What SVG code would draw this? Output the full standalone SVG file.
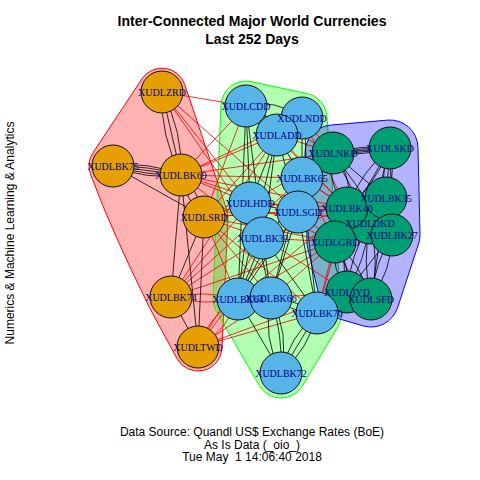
<svg xmlns="http://www.w3.org/2000/svg" width="480" height="480" viewBox="0 0 480 480">
<style>
.hull{stroke-width:1}
.e{fill:none;stroke:#000;stroke-width:0.8}
.r{fill:none;stroke:#e00;stroke-width:0.8}
.o{fill:#E69F00;stroke:#111;stroke-width:1}
.b{fill:#56B4E9;stroke:#111;stroke-width:1}
.g{fill:#009E73;stroke:#111;stroke-width:1}
.lab{font-family:"Liberation Serif","DejaVu Serif",serif;font-size:10px;fill:#00008B;text-anchor:middle}
.title{font-family:"Liberation Sans",Arial,sans-serif;font-size:14px;font-weight:bold;fill:#000;text-anchor:middle}
.sub{font-family:"Liberation Sans",Arial,sans-serif;font-size:12px;fill:#000;text-anchor:middle;white-space:pre}
</style>
<rect width="480" height="480" fill="#fff"/>
<g id="hulls">
<path class="hull" fill="#ff0000" fill-opacity="0.3" stroke="#ff0000" d="M142,78.8 A24,24 0 0 1 184.7,84.4 L226.7,209.4 A24,24 0 0 1 228,218.1 L222,348.1 A24,24 0 0 1 176.9,358.4 L149.9,308.4 A24,24 0 0 1 149.1,306.7 Q112,232 91.1,175.7 A24,24 0 0 1 93,152.8 Z"/>
<path class="hull" fill="#00ff00" fill-opacity="0.3" stroke="#00ff00" d="M221,105 A25,25 0 0 1 251.2,81.6 L307.2,93.6 A25,25 0 0 1 326.9,116.1 L341.9,311.1 A25,25 0 0 1 338.4,325.9 L302.4,385.9 A25,25 0 0 1 259.4,385.6 L216.4,311.6 A25,25 0 0 1 213,298 Z"/>
<path class="hull" fill="#0000ff" fill-opacity="0.3" stroke="#0000ff" d="M305,153.6 A28,28 0 0 1 330.6,125.1 L387.6,120.1 A28,28 0 0 1 418,147.4 L420,234.4 A28,28 0 0 1 418.6,243.7 L397.6,307.7 A28,28 0 0 1 363.2,325.9 L339.2,318.9 A28,28 0 0 1 319.8,298.5 L307.8,248.5 A28,28 0 0 1 307,242.6 Z"/>
</g>
<g id="connectors">
<path class="r" d="M162,92 L246,106 M162,92 L250,203 M162,92 L263,238 M162,92 L298,212 M181,175 L246,106 M181,175 L277,135 M181,175 L302,178 M181,175 L250,203 M181,175 L298,212 M181,175 L263,238 M181,175 L302,118 M204,217 L246,106 M204,217 L277,135 M204,217 L250,203 M204,217 L263,238 M204,217 L298,212 M204,217 L271,298 M204,217 L317,313 M204,217 L238,299 M171,297 Q204.5,306 238,299 M171,297 Q204.5,290 238,299 M171,297 L250,203 M171,297 L263,238 M171,297 L302,178 M171,297 L277,135 M198,347 Q227,331 238,299 M198,347 Q209,315 238,299 M198,347 L271,298 M198,347 L317,313 M198,347 L263,238 M198,347 L298,212 M181,175 L347,208 M204,217 L335,242 M181,175 L333,153 M204,217 L347,208 M171,297 L335,242 M198,347 L347,292"/>
<path class="r" d="M246,106 L333,153 M277,135 L333,153 M302,118 L333,153 M302,118 L347,208 M302,178 L333,153 M302,178 L347,208 M302,178 L335,242 M302,178 L370,223 M298,212 L347,208 M298,212 L335,242 M298,212 L370,223 M298,212 L333,153 M263,238 L335,242 M263,238 L347,208 M250,203 L335,242 M250,203 L347,208 M250,203 L333,153 M271,298 L335,242 M271,298 L347,292 M238,299 L335,242 M317,313 L335,242 M317,313 L347,292 M317,313 L347,208 M263,238 L347,292 M238,299 L347,208 M277,135 L347,208 M246,106 L347,208"/>
<path class="e" d="M162,92 Q183,131 181,175 M162,92 Q160,136 181,175 M162,92 L181,175 M113,166 Q146,180 181,175 M113,166 Q146,175.5 181,175 M113,166 L181,175 M113,166 Q148,165.5 181,175 M113,166 Q148,161 181,175 M113,166 L204,217 M181,175 Q199.5,192 204,217 M181,175 Q185.5,200 204,217 M181,175 L171,297 M204,217 L171,297 M181,175 L198,347 M204,217 L198,347 M171,297 L198,347"/>
<path class="e" d="M246,106 Q275,98 302,118 M246,106 Q270,124 302,118 M246,106 Q268,113 277,135 M246,106 Q256,128 277,135 M277,135 L302,118 M246,106 L250,203 M246,106 L263,238 M277,135 L250,203 M277,135 L263,238 M277,135 L302,178 M277,135 L298,212 M302,118 L302,178 M302,118 Q312,165 298,212 M302,178 L298,212 M250,203 L298,212 M250,203 L263,238 M250,203 L238,299 M250,203 L271,298 M263,238 L238,299 M263,238 L271,298 M298,212 L271,298 M298,212 L238,299 M302,178 L271,298 M302,178 L238,299 M277,135 L238,299 M246,106 L238,299 M238,299 L271,298 M238,299 L281,373 M271,298 Q290,334 281,373 M271,298 Q283,335 281,373 M271,298 Q262,337 281,373 M317,313 Q309,349 281,373 M317,313 Q299,343 281,373 M317,313 Q289,337 281,373 M271,298 Q295,300 317,313 M271,298 Q292,312 317,313 M298,212 L317,313 M263,238 L317,313 M302,178 L317,313"/>
<path class="e" stroke="#1a1040" d="M333,153 L390,148 M333,153 Q362,156.5 390,148 M333,153 Q361,144.5 390,148 M333,153 Q361.8,153.5 390,148 M333,153 Q361.2,147.5 390,148 M333,153 Q354,177 347,208 M333,153 Q326,184 347,208 M333,153 L386,198 M333,153 L370,223 M333,153 L392,235 M386,148 L382,198 M390,148 L386,198 M394,148 L390,198 M390,148 Q362,170 347,208 M390,148 Q375,185 347,208 M390,148 L370,223 M390,148 L335,242 M390,148 L392,235 M386,198 L392,235 M386,198 L370,223 M347,208 L370,223 M347,208 L335,242 M335,242 Q351,265 347,292 M335,242 Q331,269 347,292 M335,242 Q360,262 371,299 M335,242 Q348,280 371,299 M370,223 Q365,260 347,292 M370,223 Q350,255 347,292 M370,223 Q380,262 371,299 M370,223 Q362,262 371,299 M392,235 Q392,270 371,299 M392,235 Q375,262 371,299 M392,235 L347,292 M386,198 L371,299 M347,208 Q340,250 347,292"/>
</g>
<g id="n-DKD"><circle class="g" cx="370" cy="223" r="21"/></g>
<g id="n-BK40"><circle class="g" cx="347" cy="208" r="21"/></g>
<g id="n-BK35"><circle class="g" cx="386" cy="198" r="21"/></g>
<g id="n-BK27"><circle class="g" cx="392" cy="235" r="21"/></g>
<g id="n-GBD"><circle class="g" cx="335" cy="242" r="21"/></g>
<g id="n-NKD"><circle class="g" cx="333" cy="153" r="21"/></g>
<g id="n-SKD"><circle class="g" cx="390" cy="148" r="21"/></g>
<g id="n-JYD"><circle class="g" cx="347" cy="292" r="21"/></g>
<g id="n-SFD"><circle class="g" cx="371" cy="299" r="21"/></g>
<g id="n-CDD"><circle class="b" cx="246" cy="106" r="21"/></g>
<g id="n-NDD"><circle class="b" cx="302" cy="118" r="21"/></g>
<g id="n-ADD"><circle class="b" cx="277" cy="135" r="21"/></g>
<g id="n-BK65"><circle class="b" cx="302" cy="178" r="21"/></g>
<g id="n-SGD"><circle class="b" cx="298" cy="212" r="21"/></g>
<g id="n-HDD"><circle class="b" cx="250" cy="203" r="21"/></g>
<g id="n-BK33"><circle class="b" cx="263" cy="238" r="21"/></g>
<g id="n-BK64"><circle class="b" cx="238" cy="299" r="21"/></g>
<g id="n-BK66"><circle class="b" cx="271" cy="298" r="21"/></g>
<g id="n-BK70"><circle class="b" cx="317" cy="313" r="21"/></g>
<g id="n-BK72"><circle class="b" cx="281" cy="373" r="21"/></g>
<g id="n-ZRD"><circle class="o" cx="162" cy="92" r="21"/></g>
<g id="n-BK75"><circle class="o" cx="113" cy="166" r="21"/></g>
<g id="n-BK69"><circle class="o" cx="181" cy="175" r="21"/></g>
<g id="n-SRD"><circle class="o" cx="204" cy="217" r="21"/></g>
<g id="n-BK74"><circle class="o" cx="171" cy="297" r="21"/></g>
<g id="n-TWD"><circle class="o" cx="198" cy="347" r="21"/></g>
<g id="node-labels">
<text class="lab" x="370" y="226.5">XUDLDKD</text>
<text class="lab" x="347" y="211.5">XUDLBK40</text>
<text class="lab" x="386" y="201.5">XUDLBK35</text>
<text class="lab" x="392" y="238.5">XUDLBK27</text>
<text class="lab" x="335" y="245.5">XUDLGBD</text>
<text class="lab" x="333" y="156.5">XUDLNKD</text>
<text class="lab" x="390" y="151.5">XUDLSKD</text>
<text class="lab" x="347" y="295.5">XUDLJYD</text>
<text class="lab" x="371" y="302.5">XUDLSFD</text>
<text class="lab" x="246" y="109.5">XUDLCDD</text>
<text class="lab" x="302" y="121.5">XUDLNDD</text>
<text class="lab" x="277" y="138.5">XUDLADD</text>
<text class="lab" x="302" y="181.5">XUDLBK65</text>
<text class="lab" x="298" y="215.5">XUDLSGD</text>
<text class="lab" x="250" y="206.5">XUDLHDD</text>
<text class="lab" x="263" y="241.5">XUDLBK33</text>
<text class="lab" x="238" y="302.5">XUDLBK64</text>
<text class="lab" x="271" y="301.5">XUDLBK66</text>
<text class="lab" x="317" y="316.5">XUDLBK70</text>
<text class="lab" x="281" y="376.5">XUDLBK72</text>
<text class="lab" x="162" y="95.5">XUDLZRD</text>
<text class="lab" x="113" y="169.5">XUDLBK75</text>
<text class="lab" x="181" y="178.5">XUDLBK69</text>
<text class="lab" x="204" y="220.5">XUDLSRD</text>
<text class="lab" x="171" y="300.5">XUDLBK74</text>
<text class="lab" x="198" y="350.5">XUDLTWD</text>
</g>
<g id="titles">
<text class="title" x="252" y="26">Inter-Connected Major World Currencies</text>
<text class="title" x="252" y="44">Last 252 Days</text>
<text class="sub" x="252" y="436">Data Source: Quandl US$ Exchange Rates (BoE)</text>
<text class="sub" x="252" y="448.5">As Is Data (_oio_)</text>
<text class="sub" x="252" y="461" xml:space="preserve">Tue May  1 14:06:40 2018</text>
<text class="sub" transform="translate(14,233) rotate(-90)" x="0" y="0">Numerics &amp; Machine Learning &amp; Analytics</text>
</g>
</svg>
